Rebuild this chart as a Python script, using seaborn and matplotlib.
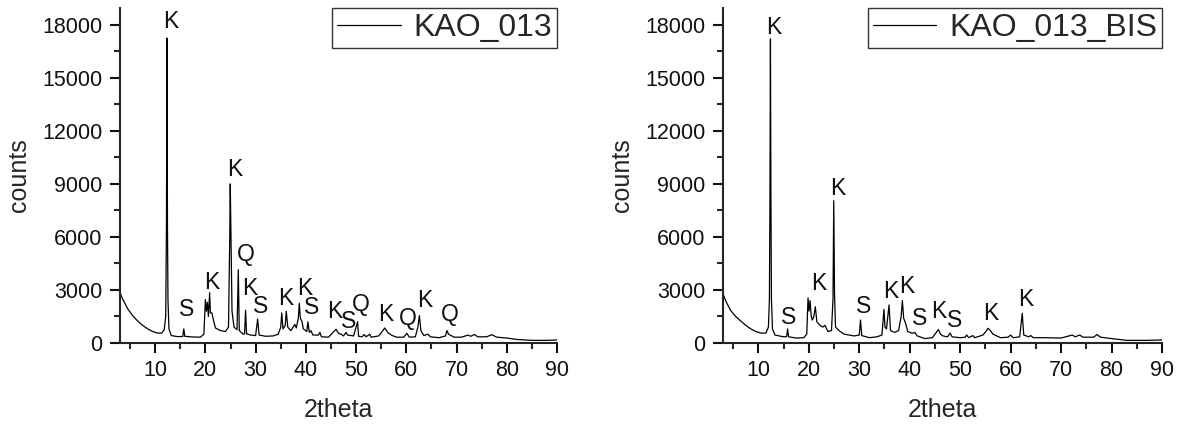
import matplotlib
matplotlib.use("Agg")
import matplotlib.pyplot as plt
import seaborn as sns
import pandas as pd
from matplotlib.ticker import MultipleLocator

# ---- data (2theta, counts) ----
theta_a = [3.0, 3.5, 4.5, 5.5, 6.5, 7.5, 8.5, 9.5, 10.5, 11.3, 11.8, 12.1, 12.25, 12.35,
           12.45, 12.55, 12.75, 13.2, 14.5, 15.5, 15.7, 15.9, 17.5, 19.0, 19.7, 20.0,
           20.2, 20.4, 20.6, 20.85, 21.0, 21.3, 21.6, 22.0, 23.0, 24.0, 24.6, 24.85,
           24.95, 25.1, 25.3, 25.7, 26.3, 26.55, 26.75, 27.5, 27.8, 28.0, 28.2, 29.0,
           30.0, 30.4, 30.7, 32.0, 33.5, 34.5, 35.0, 35.2, 35.45, 35.9, 36.1, 36.4,
           37.0, 37.8, 38.1, 38.5, 38.7, 38.9, 39.2, 39.5, 40.2, 40.4, 40.7, 41.0,
           41.4, 42.5, 42.8, 43.1, 44.5, 45.6, 46.0, 46.5, 47.0, 47.5, 48.0, 48.3,
           49.5, 50.3, 50.5, 51.2, 51.6, 52.0, 52.7, 53.0, 54.5, 55.2, 55.7, 56.3,
           57.0, 58.0, 59.5, 60.1, 60.6, 61.8, 62.3, 62.6, 62.9, 63.5, 64.3, 64.8,
           66.5, 67.8, 68.1, 68.4, 69.5, 71.0, 72.3, 72.8, 73.6, 74.2, 76.0, 77.0,
           78.0, 80.0, 82.0, 85.0, 88.0, 90.0]
counts_a = [2850, 2500, 1950, 1550, 1250, 1000, 800, 650, 560, 560, 750, 1500, 6700, 17250,
            6700, 2400, 800, 420, 360, 370, 800, 380, 340, 330, 500, 2450,
            1800, 2300, 1500, 2850, 1700, 1700, 1300, 850, 700, 650, 900, 6000,
            9000, 5800, 1800, 900, 750, 4150, 700, 500, 520, 1850, 520, 450,
            420, 1350, 450, 380, 400, 500, 900, 1700, 800, 1000, 1800, 900,
            700, 1050, 850, 1400, 2250, 1400, 1250, 800, 650, 1200, 600, 700,
            450, 450, 600, 350, 330, 650, 780, 550, 500, 400, 600, 450,
            400, 1200, 380, 350, 480, 350, 500, 330, 400, 650, 850, 600,
            450, 330, 330, 550, 330, 350, 900, 1550, 700, 420, 500, 350,
            300, 400, 700, 500, 330, 330, 450, 380, 480, 350, 350, 470,
            330, 280, 200, 150, 150, 170]

theta_b = [3.0, 3.5, 4.5, 5.5, 6.5, 7.5, 8.5, 9.5, 10.5, 11.5, 12.0, 12.2, 12.3, 12.4,
           12.5, 12.6, 12.8, 13.3, 15.0, 15.6, 15.8, 16.0, 17.5, 19.0, 19.6, 19.85,
           20.05, 20.25, 20.5, 20.7, 21.0, 21.3, 21.6, 22.2, 22.8, 23.2, 23.8, 24.5,
           24.8, 24.95, 25.1, 25.3, 26.0, 27.0, 29.0, 30.0, 30.25, 30.5, 32.0, 33.5,
           34.5, 34.9, 35.1, 35.4, 35.9, 36.2, 37.0, 37.8, 38.3, 38.55, 38.8, 39.2,
           39.6, 40.5, 41.0, 41.5, 43.0, 44.5, 45.4, 45.7, 46.1, 46.6, 47.5, 48.0,
           48.4, 50.0, 51.0, 51.3, 51.7, 52.5, 52.9, 54.5, 55.1, 55.5, 56.0, 56.5,
           58.0, 59.5, 60.0, 60.5, 61.8, 62.3, 62.6, 63.6, 64.0, 64.5, 67.0, 70.0,
           72.2, 72.8, 73.7, 74.3, 76.5, 77.1, 77.8, 80.0, 83.0, 87.0, 90.0]
counts_b = [2800, 2400, 1850, 1500, 1250, 1000, 800, 650, 560, 560, 900, 2500, 8000, 17200,
            8000, 2500, 800, 450, 350, 360, 800, 350, 280, 300, 500, 2550,
            1800, 2400, 1500, 1300, 1500, 2050, 1200, 1000, 900, 1000, 650, 700,
            2500, 8050, 2800, 900, 700, 500, 400, 450, 1300, 420, 300, 350,
            450, 1900, 900, 800, 2150, 700, 600, 700, 1500, 2400, 1400, 1100,
            650, 550, 600, 400, 250, 300, 650, 760, 500, 400, 350, 560,
            350, 300, 330, 450, 300, 420, 300, 450, 650, 830, 700, 500,
            300, 330, 450, 300, 350, 1680, 450, 350, 420, 300, 300, 280,
            450, 350, 450, 330, 330, 480, 330, 250, 150, 150, 170]

# phase labels (K = kaolinite, S, Q = quartz)
lab_a = ["K", "S", "K", "K", "Q", "K", "S", "K", "K", "S", "K", "S", "Q", "K", "Q", "K", "Q"]
lab_a_x = [13.2, 16.2, 21.3, 25.9, 28.0, 28.8, 31.0, 36.0, 39.7, 41.1, 45.7, 48.5, 51.0,
           55.9, 60.3, 63.7, 68.7]
lab_a_y = [18170, 1870, 3400, 9790, 4980, 3110, 2040, 2490, 3110, 1980, 1760, 1190, 2150,
           1590, 1410, 2430, 1590]

lab_b = ["K", "S", "K", "K", "S", "K", "K", "S", "K", "S", "K", "K"]
lab_b_x = [13.1, 16.1, 22.0, 25.7, 30.8, 36.2, 39.5, 41.9, 45.7, 48.9, 56.1, 63.0]
lab_b_y = [17870, 1460, 3360, 8760, 2070, 2920, 3210, 1400, 1780, 1270, 1650, 2470]

names = ["KAO_013", "KAO_013_BIS"]

sns.set_style("ticks")
plt.rcParams["font.family"] = ["Liberation Sans", "DejaVu Sans"]
plt.rcParams["axes.linewidth"] = 1.5
plt.rcParams["xtick.major.width"] = 1.5
plt.rcParams["ytick.major.width"] = 1.5
plt.rcParams["xtick.minor.width"] = 1.5
plt.rcParams["ytick.minor.width"] = 1.5

fig = plt.figure(figsize=(11.82, 4.30), dpi=100)
ax1 = fig.add_axes([120 / 1182, 1 - 343 / 430, 437 / 1182, 335 / 430])
ax2 = fig.add_axes([723 / 1182, 1 - 343 / 430, 439 / 1182, 335 / 430])

panels = [
    (ax1, theta_a, counts_a, names[0], lab_a, lab_a_x, lab_a_y),
    (ax2, theta_b, counts_b, names[1], lab_b, lab_b_x, lab_b_y),
]

for ax, tx, cy, name, labs, lx, ly in panels:
    df = pd.DataFrame({"2theta": tx, "counts": cy, "sample": name})
    sns.lineplot(data=df, x="2theta", y="counts", hue="sample", palette=["black"],
                 sort=False, estimator=None, lw=0.9, ax=ax)
    for t, x, y in zip(labs, lx, ly):
        ax.text(x, y, t, ha="center", va="center", fontsize=16.5, color="#111111")

    ax.set_xlim(3, 90)
    ax.set_ylim(0, 18950)
    ax.xaxis.set_major_locator(MultipleLocator(10))
    ax.xaxis.set_minor_locator(MultipleLocator(5))
    ax.yaxis.set_major_locator(MultipleLocator(3000))
    ax.yaxis.set_minor_locator(MultipleLocator(1500))
    ax.set_xticks(range(10, 91, 10))
    ax.tick_params(which="major", length=7.5, labelsize=15.5, pad=5, colors="#111111")
    ax.tick_params(which="minor", length=4.5)
    sns.despine(ax=ax)
    ax.set_xlabel("2theta", fontsize=18, labelpad=12)
    ax.set_ylabel("counts", fontsize=18, labelpad=8)

    leg = ax.legend(loc="upper right", fontsize=23, handlelength=2.0, handletextpad=0.4,
                    borderaxespad=0.0, borderpad=0.15, fancybox=False, framealpha=1,
                    edgecolor="#333333", bbox_to_anchor=(1.0, 1.0))
    leg.get_frame().set_linewidth(1.0)
    leg.set_title(None)
    for h in leg.get_lines():
        h.set_linewidth(0.9)

fig.savefig("out.png", dpi=100)
